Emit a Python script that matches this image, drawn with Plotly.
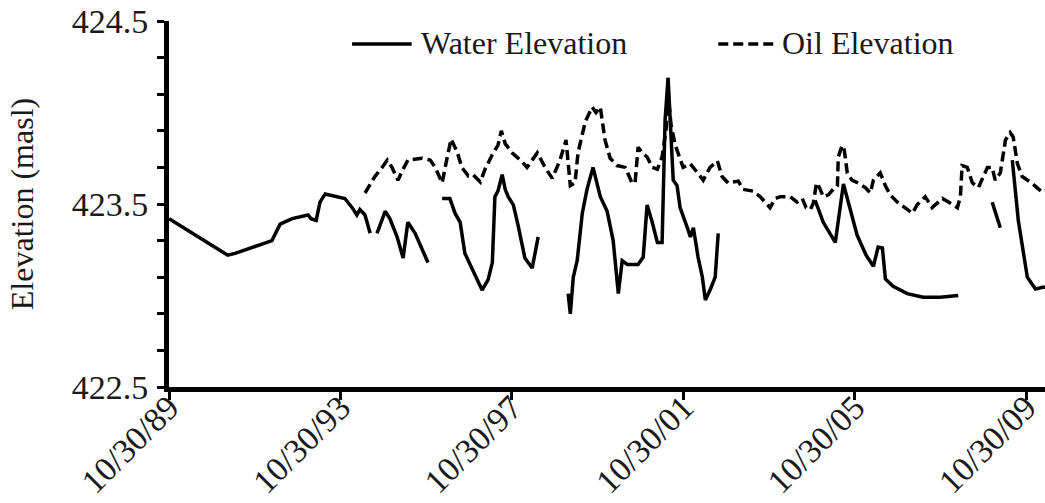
import datetime as dt
import plotly.graph_objects as go

# Observation times as decimal years; None separates gaps in the record
water_year = [
    1989.83, 1991.20, 1991.37, 1992.23, 1992.42, 1992.70, 1993.07, 1993.14, 1993.26,
    1993.35, 1993.47, 1993.93, 1994.10, 1994.21, 1994.28, 1994.40, 1994.52, None,
    1994.68, 1994.87, 1994.98, 1995.15, 1995.29, 1995.40, 1995.57, 1995.87, None,
    1996.20, 1996.38, 1996.50, 1996.62, 1996.73, 1996.85, 1997.01, 1997.13, 1997.27,
    1997.37, 1997.43, 1997.50, 1997.60, 1997.67, 1997.74, 1997.86, 1997.97, 1998.13,
    1998.30, 1998.44, None,
    1999.14, 1999.19, 1999.26, 1999.35, 1999.47, 1999.58, 1999.72, 1999.89, 2000.05,
    2000.19, 2000.31, 2000.40, 2000.52, 2000.77, 2000.89, 2000.98, 2001.10, 2001.22,
    2001.33, 2001.40, 2001.47, 2001.54, 2001.59, 2001.68, 2001.75, 2001.92, 2001.99,
    2002.06, 2002.17, 2002.27, 2002.34, 2002.45, 2002.57, 2002.64, None,
    2004.90, 2005.09, 2005.37, 2005.56, 2005.72, 2005.88, 2006.09, 2006.26, 2006.37,
    2006.47, 2006.54, 2006.72, 2007.05, 2007.42, 2007.82, 2008.24, None,
    2009.03, 2009.22, None,
    2009.50, 2009.64, 2009.85, 2010.04, 2010.20, 2010.29,
]
water_elev = [
    423.42, 423.22, 423.23, 423.30, 423.39, 423.42, 423.44, 423.42, 423.41,
    423.51, 423.555, 423.53, 423.48, 423.44, 423.47, 423.44, 423.34, None,
    423.34, 423.46, 423.42, 423.32, 423.205, 423.40, 423.34, 423.18, None,
    423.53, 423.53, 423.45, 423.40, 423.23, 423.17, 423.10, 423.03, 423.085,
    423.18, 423.54, 423.57, 423.66, 423.58, 423.54, 423.495, 423.385, 423.205,
    423.15, 423.32, None,
    423.01, 422.90, 423.10, 423.19, 423.45, 423.58, 423.70, 423.54, 423.46,
    423.30, 423.01, 423.19, 423.17, 423.17, 423.21, 423.495, 423.40, 423.29,
    423.29, 423.96, 424.19, 423.90, 423.63, 423.60, 423.48, 423.37, 423.32,
    423.37, 423.21, 423.10, 422.975, 423.03, 423.10, 423.34, None,
    423.52, 423.40, 423.29, 423.61, 423.47, 423.33, 423.22, 423.16, 423.265,
    423.26, 423.09, 423.05, 423.01, 422.99, 422.99, 423.00, None,
    423.51, 423.37, None,
    423.74, 423.41, 423.10, 423.035, 423.045, 423.045,
]

oil_year = [
    1994.40, 1994.63, 1994.80, 1994.92, 1995.03, 1995.17, 1995.29, 1995.40, 1995.73,
    1995.92, 1996.04, 1996.20, 1996.32, 1996.41, 1996.55, 1996.66, 1996.81, 1996.92,
    1997.09, 1997.20, 1997.37, 1997.50, 1997.58, 1997.67, 1997.83, 1998.07, 1998.18,
    1998.42, 1998.60, 1998.77, 1998.95, 1999.09, 1999.19, 1999.30, 1999.37, 1999.54,
    1999.70, 1999.79, 1999.89, 2000.00, 2000.12, 2000.28, 2000.47, 2000.63, 2000.70,
    2000.77, 2000.87, 2000.98, 2001.10, 2001.22, 2001.33, 2001.43, 2001.47, 2001.54,
    2001.64, 2001.82, 2001.99, 2002.15, 2002.29, 2002.45, 2002.62, 2002.73, 2002.87,
    2002.99, 2003.11, 2003.22, 2003.46, 2003.62, 2003.74, 2003.85, 2003.97, 2004.09,
    2004.32, 2004.48, 2004.60, 2004.69, 2004.79, 2004.86, 2004.93, 2005.00, 2005.09,
    2005.21, 2005.32, 2005.42, 2005.44, 2005.53, 2005.58, 2005.65, 2005.76, 2005.90,
    2006.07, 2006.19, 2006.26, 2006.42, 2006.54, 2006.65, 2006.82, 2007.00, 2007.17,
    2007.28, 2007.47, 2007.63, 2007.87, 2008.05, 2008.22, 2008.29, 2008.33, 2008.45,
    2008.57, 2008.71, 2008.92, 2009.03, 2009.10, 2009.22, 2009.34, 2009.45, 2009.52,
    2009.62, 2009.73, 2009.92, 2010.08, 2010.20, 2010.29,
]
oil_elev = [
    423.56, 423.65, 423.70, 423.74, 423.70, 423.63, 423.69, 423.74, 423.75,
    423.74, 423.70, 423.615, 423.757, 423.855, 423.784, 423.70, 423.653, 423.66,
    423.62, 423.69, 423.77, 423.82, 423.90, 423.83, 423.78, 423.73, 423.70,
    423.78, 423.70, 423.64, 423.74, 423.85, 423.60, 423.615, 423.78, 423.95,
    424.03, 424.00, 424.03, 423.85, 423.75, 423.71, 423.70, 423.615, 423.615,
    423.81, 423.78, 423.757, 423.70, 423.69, 423.757, 423.92, 424.10, 423.93,
    423.82, 423.70, 423.72, 423.675, 423.63, 423.70, 423.735, 423.65, 423.615,
    423.62, 423.625, 423.58, 423.57, 423.54, 423.51, 423.48, 423.53, 423.54,
    423.54, 423.51, 423.53, 423.48, 423.47, 423.505, 423.615, 423.59, 423.54,
    423.55, 423.58, 423.60, 423.757, 423.82, 423.795, 423.67, 423.63, 423.615,
    423.59, 423.56, 423.63, 423.67, 423.60, 423.55, 423.51, 423.48, 423.45,
    423.495, 423.54, 423.48, 423.53, 423.505, 423.48, 423.54, 423.71, 423.70,
    423.615, 423.59, 423.70, 423.70, 423.63, 423.67, 423.85, 423.89, 423.866,
    423.72, 423.65, 423.62, 423.59, 423.565, 423.575,
]

tick_dates = ["1989-10-30", "1993-10-30", "1997-10-30", "2001-10-30", "2005-10-30", "2009-10-30"]
x_start = "1989-10-30"
x_end = "2010-04-07"

series_names = ["Water Elevation", "Oil Elevation"]
y_title = "Elevation (masl)"


def to_datetime(year):
    """Convert a decimal year to a datetime (None stays None)."""
    if year is None:
        return None
    base = int(year)
    start = dt.datetime(base, 1, 1)
    span = (dt.datetime(base + 1, 1, 1) - start).total_seconds()
    return start + dt.timedelta(seconds=(year - base) * span)


FONT = "Liberation Serif"
INK = "#1a1a1a"
TICK_SIZE = 34

fig = go.Figure()
fig.add_trace(go.Scatter(
    x=[to_datetime(v) for v in water_year], y=water_elev, mode="lines",
    name=series_names[0], line=dict(color="black", width=3.5), showlegend=False,
))
fig.add_trace(go.Scatter(
    x=[to_datetime(v) for v in oil_year], y=oil_elev, mode="lines",
    name=series_names[1], line=dict(color="black", width=3.5, dash="10px,5px"),
    showlegend=False,
))

# Legend drawn in paper space so the line samples can be long
legend_y = 0.94
fig.add_shape(type="line", xref="paper", yref="paper", x0=0.209, x1=0.277,
              y0=0.937, y1=0.937, line=dict(color="black", width=3.5))
fig.add_shape(type="line", xref="paper", yref="paper", x0=0.627, x1=0.690,
              y0=0.937, y1=0.937, line=dict(color="black", width=3.5, dash="10px,5px"))
fig.add_annotation(xref="paper", yref="paper", x=0.285, y=legend_y, text=series_names[0],
                   showarrow=False, xanchor="left", yanchor="middle",
                   font=dict(family=FONT, size=32, color=INK))
fig.add_annotation(xref="paper", yref="paper", x=0.698, y=legend_y, text=series_names[1],
                   showarrow=False, xanchor="left", yanchor="middle",
                   font=dict(family=FONT, size=32, color=INK))

fig.update_layout(
    width=1045, height=503,
    margin=dict(l=169, r=0, t=21, b=116, autoexpand=False),
    paper_bgcolor="white", plot_bgcolor="white",
    font=dict(family=FONT, size=31, color=INK),
)
fig.update_xaxes(
    type="date", range=[x_start, x_end], automargin=False,
    tickvals=tick_dates, tickformat="%m/%d/%y", tickangle=-45,
    ticks="outside", ticklen=8, tickwidth=3, tickcolor="black",
    ticklabelstandoff=-26, ticklabeloverflow="allow",
    showline=True, linecolor="black", linewidth=5,
    showgrid=False, zeroline=False,
    tickfont=dict(family=FONT, size=TICK_SIZE, color=INK),
)
fig.update_yaxes(
    range=[422.5, 424.5], tick0=422.5, dtick=1, automargin=False,
    ticks="outside", ticklen=7, tickwidth=3, tickcolor="black",
    minor=dict(dtick=0.2, tick0=422.5, ticks="outside", ticklen=7, tickwidth=3,
               tickcolor="black", showgrid=False),
    showline=True, linecolor="black", linewidth=5,
    showgrid=False, zeroline=False,
    tickformat=".1f", ticklabelstandoff=2,
    tickfont=dict(family=FONT, size=TICK_SIZE, color=INK),
    title=dict(text=y_title, font=dict(family=FONT, size=32, color=INK), standoff=30),
)

fig.write_html("out.html")
